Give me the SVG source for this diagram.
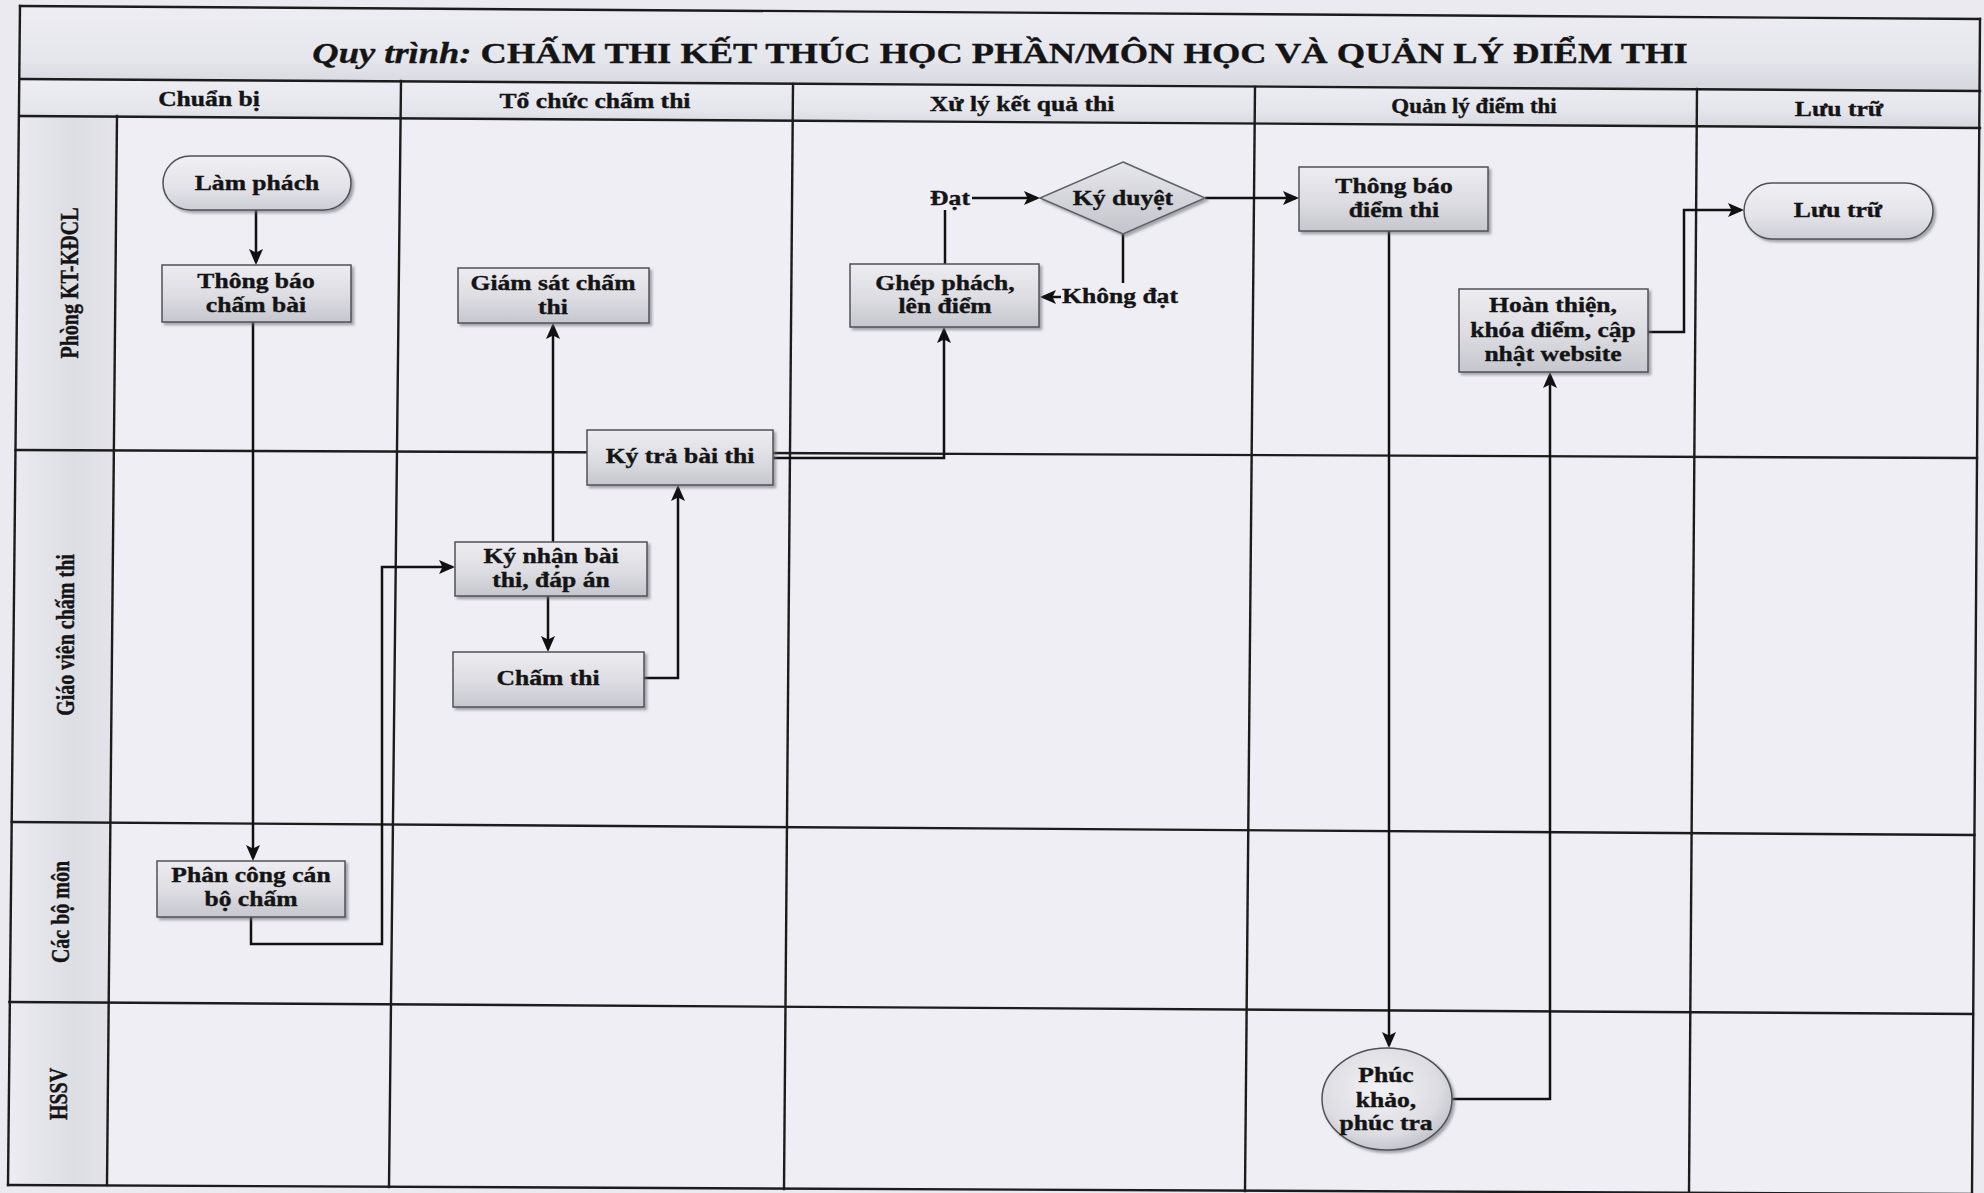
<svg xmlns="http://www.w3.org/2000/svg" width="1984" height="1193" viewBox="0 0 1984 1193">
<style>
.t{font-family:"Liberation Serif","Times New Roman",serif;font-weight:bold;fill:#141414;stroke:#141414;stroke-width:0.35;}
.n{font-size:20px;text-anchor:middle;}
.h{font-size:20px;text-anchor:middle;}
.ln{font-size:20px;text-anchor:middle;}
.grid{stroke:#1c1c1c;stroke-width:2.4;fill:none;stroke-linecap:square;}
.c{stroke:#111;stroke-width:2.5;fill:none;}
.ca{stroke:#111;stroke-width:2.5;fill:none;marker-end:url(#ah);}
.box{fill:url(#gBox);stroke:#505058;stroke-width:1.5;filter:url(#sh);}
.term{fill:url(#gTerm);stroke:#505058;stroke-width:1.5;filter:url(#sh);}
</style>
<defs>
<linearGradient id="gBox" x1="0" y1="0" x2="0" y2="1">
<stop offset="0" stop-color="#ececf1"/><stop offset="0.55" stop-color="#dcdce2"/><stop offset="1" stop-color="#c6c6ce"/>
</linearGradient>
<linearGradient id="gTerm" x1="0" y1="0" x2="0" y2="1">
<stop offset="0" stop-color="#f0f0f4"/><stop offset="0.6" stop-color="#e2e2e8"/><stop offset="1" stop-color="#cdcdd5"/>
</linearGradient>
<linearGradient id="gDia" x1="0" y1="0" x2="0" y2="1">
<stop offset="0" stop-color="#e6e6ec"/><stop offset="1" stop-color="#c4c4cc"/>
</linearGradient>
<radialGradient id="gCir" cx="0.45" cy="0.4" r="0.65">
<stop offset="0" stop-color="#f2f2f6"/><stop offset="0.7" stop-color="#dcdce2"/><stop offset="1" stop-color="#bdbdc6"/>
</radialGradient>
<linearGradient id="gRow" x1="0" y1="0" x2="0" y2="1">
<stop offset="0" stop-color="#ededf3"/><stop offset="0.6" stop-color="#e6e6ed"/><stop offset="1" stop-color="#d6d6de"/>
</linearGradient>
<linearGradient id="gLane" x1="0" y1="0" x2="1" y2="0">
<stop offset="0" stop-color="#ececf2"/><stop offset="0.6" stop-color="#dddde4"/><stop offset="1" stop-color="#e4e4ea"/>
</linearGradient>
<filter id="sh" x="-10%" y="-10%" width="130%" height="140%">
<feDropShadow dx="2.5" dy="2.5" stdDeviation="1.2" flood-color="#6a6a72" flood-opacity="0.55"/>
</filter>
<marker id="ah" viewBox="0 0 16 14" refX="13" refY="7" markerWidth="16" markerHeight="14" markerUnits="userSpaceOnUse" orient="auto">
<path d="M0,0 L16,7 L0,14 L3.5,7 Z" fill="#111"/>
</marker>
</defs>

<rect x="0" y="0" width="1984" height="1193" fill="#ebeaf0"/>

<g id="frame">
<polygon points="20,6 1980,19 1972,1194 8,1185" fill="#efeef4"/>
<polygon points="20,6 1980,19 1980,91 20,79" fill="url(#gRow)"/>
<polygon points="20,79 1980,91 1980,128 20,116" fill="url(#gRow)"/>
<polygon points="20,116 117,116 107,1185 8,1185" fill="url(#gLane)"/>
<g class="grid">
<line x1="20" y1="6" x2="1980" y2="19"/>
<line x1="20" y1="79" x2="1980" y2="91"/>
<line x1="20" y1="116" x2="1980" y2="128"/>
<line x1="15.5" y1="450" x2="1977" y2="458"/>
<line x1="11.7" y1="822" x2="1974.4" y2="835"/>
<line x1="9.4" y1="1002" x2="1973" y2="1014"/>
<line x1="8" y1="1185" x2="1972" y2="1194"/>
<line x1="20" y1="6" x2="8" y2="1185"/>
<line x1="117" y1="116" x2="107" y2="1185"/>
<line x1="401" y1="81" x2="389" y2="1187"/>
<line x1="793" y1="84" x2="784" y2="1189"/>
<line x1="1255" y1="87" x2="1245" y2="1191"/>
<line x1="1697" y1="89" x2="1689" y2="1193"/>
<line x1="1980" y1="19" x2="1972" y2="1194"/>
</g>
<text class="t" font-size="28.5" text-anchor="middle" transform="matrix(1.28,0,0,1,1000,0)" x="0" y="63"><tspan font-style="italic">Quy trình:</tspan> CHẤM THI KẾT THÚC HỌC PHẦN/MÔN HỌC VÀ QUẢN LÝ ĐIỂM THI</text>
<text class="t h" transform="matrix(1.28,0,0,1,209,0)" x="0" y="106">Chuẩn bị</text>
<text class="t h" transform="matrix(1.28,0,0,1,595,0)" x="0" y="108">Tổ chức chấm thi</text>
<text class="t h" transform="matrix(1.28,0,0,1,1022,0)" x="0" y="111">Xử lý kết quả thi</text>
<text class="t h" font-size="15" transform="matrix(1.15,0,0,1,1474,0)" x="0" y="113">Quản lý điểm thi</text>
<text class="t h" transform="matrix(1.28,0,0,1,1839,0)" x="0" y="116">Lưu trữ</text>
<text class="t ln" transform="translate(69,283) scale(1.28,1) rotate(-90)" x="0" y="0" dy="0.35em">Phòng KT-KĐCL</text>
<text class="t ln" transform="translate(65,635) scale(1.28,1) rotate(-90)" x="0" y="0" dy="0.35em">Giáo viên chấm thi</text>
<text class="t ln" transform="translate(60,912) scale(1.28,1) rotate(-90)" x="0" y="0" dy="0.35em">Các bộ môn</text>
<text class="t ln" transform="translate(58,1094) scale(1.28,1) rotate(-90)" x="0" y="0" dy="0.35em">HSSV</text>
</g>

<g id="connectors">
<path class="ca" d="M256,210 V262"/>
<path class="ca" d="M253,322 V858"/>
<path class="ca" d="M251,917 V944 H382 V567 H452"/>
<path class="ca" d="M553,542 V326"/>
<path class="ca" d="M548,596 V649"/>
<path class="ca" d="M644,678 H678 V488"/>
<path class="ca" d="M773,458 H944 V330"/>
<path class="c" d="M945,264 V210"/>
<path class="ca" d="M972,198 H1037"/>
<path class="c" d="M1123,234 V283"/>
<path class="ca" d="M1061,297 H1043"/>
<path class="ca" d="M1205,198 H1296"/>
<path class="ca" d="M1389,231 V1045"/>
<path class="ca" d="M1452,1099 H1550 V375"/>
<path class="ca" d="M1648,332 H1684 V210 H1741"/>
</g>

<g id="n-lamphach">
<rect class="term" x="163" y="156" width="188" height="54" rx="27"/>
<text class="t n" transform="matrix(1.28,0,0,1,257,0)" x="0" y="190">Làm phách</text>
</g>
<g id="n-thongbaochambai">
<rect class="box" x="162" y="265" width="189" height="57"/>
<text class="t n" transform="matrix(1.28,0,0,1,256,0)"><tspan x="0" y="288">Thông báo</tspan><tspan x="0" y="312">chấm bài</tspan></text>
</g>
<g id="n-giamsat">
<rect class="box" x="458" y="268" width="191" height="55"/>
<text class="t n" transform="matrix(1.28,0,0,1,553,0)"><tspan x="0" y="290">Giám sát chấm</tspan><tspan x="0" y="314">thi</tspan></text>
</g>
<g id="n-kytra">
<rect class="box" x="587" y="430" width="186" height="55"/>
<text class="t n" transform="matrix(1.28,0,0,1,680,0)" x="0" y="463">Ký trả bài thi</text>
</g>
<g id="n-kynhan">
<rect class="box" x="455" y="542" width="192" height="54"/>
<text class="t n" transform="matrix(1.28,0,0,1,551,0)"><tspan x="0" y="563">Ký nhận bài</tspan><tspan x="0" y="587">thi, đáp án</tspan></text>
</g>
<g id="n-chamthi">
<rect class="box" x="453" y="652" width="191" height="55"/>
<text class="t n" transform="matrix(1.28,0,0,1,548,0)" x="0" y="685">Chấm thi</text>
</g>
<g id="n-phancong">
<rect class="box" x="157" y="861" width="188" height="56"/>
<text class="t n" transform="matrix(1.28,0,0,1,251,0)"><tspan x="0" y="882">Phân công cán</tspan><tspan x="0" y="906">bộ chấm</tspan></text>
</g>
<g id="n-ghepphach">
<rect class="box" x="850" y="264" width="189" height="63"/>
<text class="t n" transform="matrix(1.28,0,0,1,945,0)"><tspan x="0" y="290">Ghép phách,</tspan><tspan x="0" y="313">lên điểm</tspan></text>
</g>
<g id="n-kyduyet">
<polygon points="1123,162 1205,198 1123,234 1040,198" fill="url(#gDia)" stroke="#606068" stroke-width="1.5" filter="url(#sh)"/>
<text class="t n" transform="matrix(1.28,0,0,1,1123,0)" x="0" y="205">Ký duyệt</text>
</g>
<g id="lbl-dat">
<text class="t n" transform="matrix(1.28,0,0,1,950,0)" x="0" y="205">Đạt</text>
</g>
<g id="lbl-khongdat">
<text class="t" font-size="20" text-anchor="start" transform="matrix(1.28,0,0,1,1062,0)" x="0" y="303">Không đạt</text>
</g>
<g id="n-thongbaodiem">
<rect class="box" x="1299" y="167" width="189" height="64"/>
<text class="t n" transform="matrix(1.28,0,0,1,1394,0)"><tspan x="0" y="193">Thông báo</tspan><tspan x="0" y="217">điểm thi</tspan></text>
</g>
<g id="n-hoanthien">
<rect class="box" x="1459" y="289" width="189" height="83"/>
<text class="t n" transform="matrix(1.28,0,0,1,1553,0)"><tspan x="0" y="312">Hoàn thiện,</tspan><tspan x="0" y="337">khóa điểm, cập</tspan><tspan x="0" y="361">nhật website</tspan></text>
</g>
<g id="n-luutru">
<rect class="term" x="1744" y="183" width="189" height="56" rx="28"/>
<text class="t n" transform="matrix(1.28,0,0,1,1838,0)" x="0" y="217">Lưu trữ</text>
</g>
<g id="n-phuckhao">
<ellipse cx="1387" cy="1099" rx="65" ry="51" fill="url(#gCir)" stroke="#505058" stroke-width="1.5" filter="url(#sh)"/>
<text class="t n" transform="matrix(1.28,0,0,1,1386,0)"><tspan x="0" y="1082">Phúc</tspan><tspan x="0" y="1107">khảo,</tspan><tspan x="0" y="1130">phúc tra</tspan></text>
</g>
</svg>
